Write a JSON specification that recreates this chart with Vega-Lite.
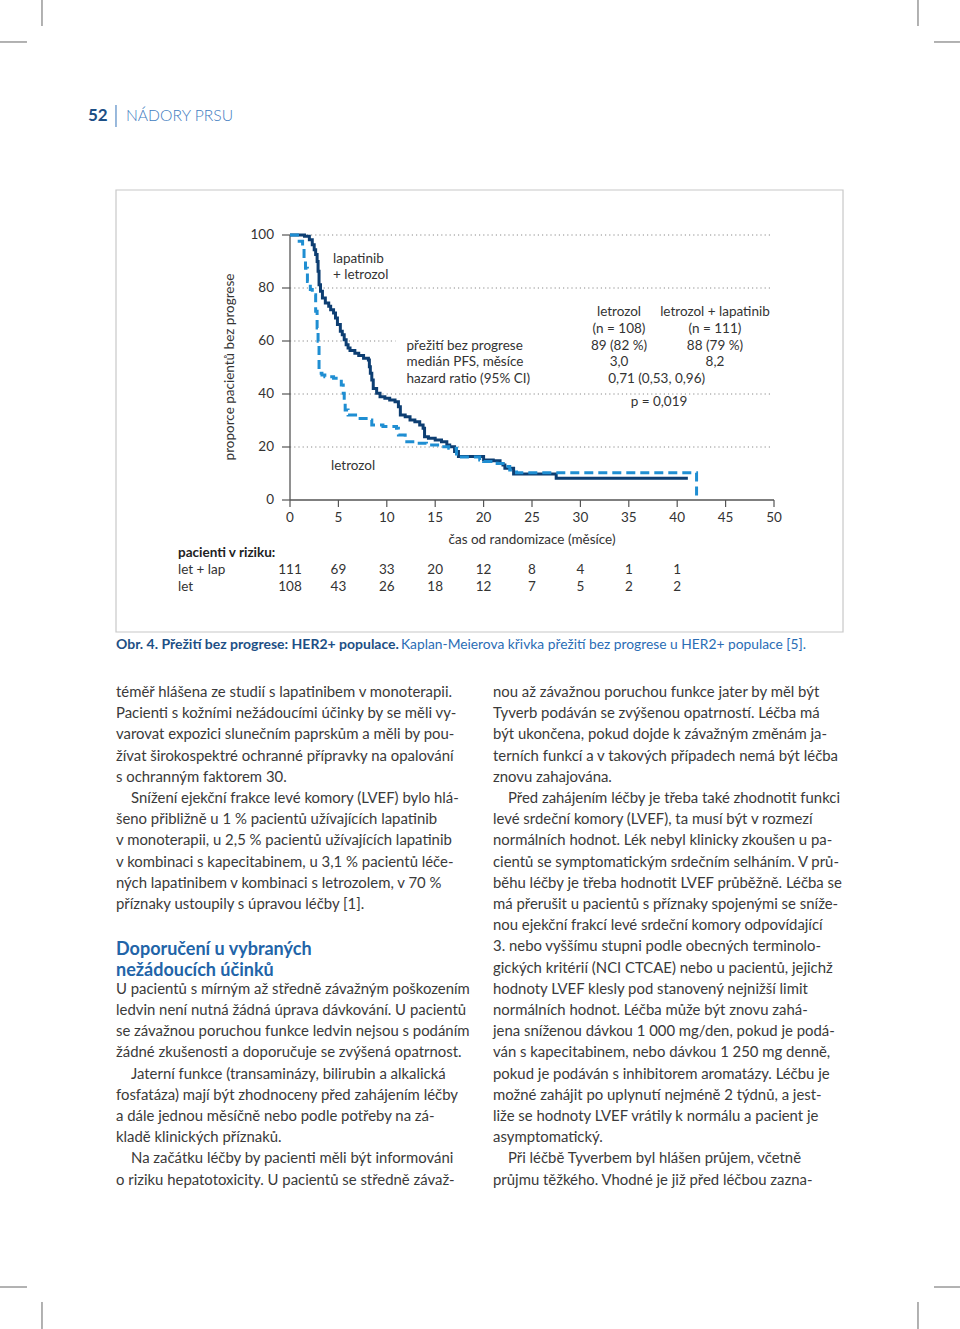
{
  "$schema": "https://vega.github.io/schema/vega-lite/v6.json",
  "width": 960,
  "height": 1329,
  "autosize": {"type": "none"},
  "padding": 0,
  "background": "white",
  "config": {"view": {"stroke": null}, "text": {"font": "Lato"}},
  "datasets": {
    "km": [
      {"arm": "let + lap", "t": 0, "s": 100}, {"arm": "let + lap", "t": 1.5, "s": 99.5}, {"arm": "let + lap", "t": 2.0, "s": 98.2}, {"arm": "let + lap", "t": 2.3, "s": 96.3}, {"arm": "let + lap", "t": 2.5, "s": 94.4}, {"arm": "let + lap", "t": 2.65, "s": 92.6}, {"arm": "let + lap", "t": 2.8, "s": 90}, {"arm": "let + lap", "t": 2.9, "s": 86.3}, {"arm": "let + lap", "t": 3.0, "s": 81.2}, {"arm": "let + lap", "t": 3.15, "s": 78.8}, {"arm": "let + lap", "t": 3.35, "s": 76.2}, {"arm": "let + lap", "t": 3.65, "s": 74.3}, {"arm": "let + lap", "t": 4.0, "s": 73.1}, {"arm": "let + lap", "t": 4.2, "s": 71.8}, {"arm": "let + lap", "t": 4.5, "s": 70.6}, {"arm": "let + lap", "t": 4.7, "s": 68.7}, {"arm": "let + lap", "t": 4.9, "s": 66.2}, {"arm": "let + lap", "t": 5.2, "s": 63.7}, {"arm": "let + lap", "t": 5.4, "s": 62.4}, {"arm": "let + lap", "t": 5.6, "s": 60.5}, {"arm": "let + lap", "t": 5.8, "s": 58.6}, {"arm": "let + lap", "t": 6.0, "s": 57.4}, {"arm": "let + lap", "t": 6.2, "s": 56.4}, {"arm": "let + lap", "t": 6.7, "s": 55.4}, {"arm": "let + lap", "t": 7.1, "s": 54.5}, {"arm": "let + lap", "t": 7.6, "s": 53.5}, {"arm": "let + lap", "t": 8.1, "s": 52.8}, {"arm": "let + lap", "t": 8.2, "s": 50.3}, {"arm": "let + lap", "t": 8.3, "s": 47.8}, {"arm": "let + lap", "t": 8.45, "s": 45.3}, {"arm": "let + lap", "t": 8.6, "s": 42.1}, {"arm": "let + lap", "t": 8.95, "s": 40.3}, {"arm": "let + lap", "t": 9.3, "s": 39.0}, {"arm": "let + lap", "t": 9.8, "s": 38.4}, {"arm": "let + lap", "t": 10.3, "s": 37.7}, {"arm": "let + lap", "t": 10.85, "s": 37.1}, {"arm": "let + lap", "t": 11.2, "s": 35.2}, {"arm": "let + lap", "t": 11.4, "s": 32.1}, {"arm": "let + lap", "t": 11.9, "s": 31.4}, {"arm": "let + lap", "t": 12.4, "s": 30.2}, {"arm": "let + lap", "t": 12.9, "s": 29.5}, {"arm": "let + lap", "t": 13.4, "s": 28.3}, {"arm": "let + lap", "t": 13.75, "s": 27.1}, {"arm": "let + lap", "t": 13.9, "s": 23.9}, {"arm": "let + lap", "t": 14.3, "s": 23.3}, {"arm": "let + lap", "t": 15.0, "s": 22.6}, {"arm": "let + lap", "t": 15.65, "s": 22.0}, {"arm": "let + lap", "t": 16.2, "s": 20.8}, {"arm": "let + lap", "t": 16.5, "s": 20.1}, {"arm": "let + lap", "t": 17.0, "s": 18.3}, {"arm": "let + lap", "t": 17.4, "s": 16.4}, {"arm": "let + lap", "t": 20.0, "s": 15.1}, {"arm": "let + lap", "t": 21.0, "s": 14.8}, {"arm": "let + lap", "t": 21.7, "s": 13.8}, {"arm": "let + lap", "t": 22.0, "s": 13.2}, {"arm": "let + lap", "t": 22.2, "s": 12.0}, {"arm": "let + lap", "t": 23.1, "s": 9.8}, {"arm": "let + lap", "t": 27.5, "s": 8.2}, {"arm": "let + lap", "t": 41.1, "s": 8.2},
      {"arm": "let", "t": 0, "s": 100}, {"arm": "let", "t": 0.95, "s": 97.6}, {"arm": "let", "t": 1.3, "s": 95.0}, {"arm": "let", "t": 1.45, "s": 91.3}, {"arm": "let", "t": 1.6, "s": 87.5}, {"arm": "let", "t": 1.8, "s": 82.5}, {"arm": "let", "t": 2.1, "s": 79.4}, {"arm": "let", "t": 2.3, "s": 77.5}, {"arm": "let", "t": 2.65, "s": 71.2}, {"arm": "let", "t": 2.8, "s": 64.9}, {"arm": "let", "t": 2.9, "s": 59.9}, {"arm": "let", "t": 3.0, "s": 47.8}, {"arm": "let", "t": 3.3, "s": 47.2}, {"arm": "let", "t": 3.6, "s": 46.5}, {"arm": "let", "t": 4.5, "s": 45.9}, {"arm": "let", "t": 5.3, "s": 43.4}, {"arm": "let", "t": 5.5, "s": 40.3}, {"arm": "let", "t": 5.6, "s": 37.0}, {"arm": "let", "t": 5.7, "s": 34.0}, {"arm": "let", "t": 6.0, "s": 32.1}, {"arm": "let", "t": 7.0, "s": 30.8}, {"arm": "let", "t": 8.1, "s": 30.2}, {"arm": "let", "t": 8.45, "s": 28.3}, {"arm": "let", "t": 9.6, "s": 27.7}, {"arm": "let", "t": 11.0, "s": 27.1}, {"arm": "let", "t": 11.2, "s": 24.5}, {"arm": "let", "t": 11.9, "s": 22.0}, {"arm": "let", "t": 13.1, "s": 21.4}, {"arm": "let", "t": 14.1, "s": 20.8}, {"arm": "let", "t": 15.5, "s": 20.1}, {"arm": "let", "t": 16.4, "s": 19.5}, {"arm": "let", "t": 17.2, "s": 16.2}, {"arm": "let", "t": 19.6, "s": 15.1}, {"arm": "let", "t": 20.0, "s": 14.5}, {"arm": "let", "t": 21.4, "s": 13.8}, {"arm": "let", "t": 22.0, "s": 12.6}, {"arm": "let", "t": 22.7, "s": 11.3}, {"arm": "let", "t": 23.4, "s": 10.3}, {"arm": "let", "t": 42.0, "s": 1.0}
    ],
    "risk": [
      {"arm": "let + lap", "t": 0, "n": 111}, {"arm": "let + lap", "t": 5, "n": 69}, {"arm": "let + lap", "t": 10, "n": 33}, {"arm": "let + lap", "t": 15, "n": 20}, {"arm": "let + lap", "t": 20, "n": 12}, {"arm": "let + lap", "t": 25, "n": 8}, {"arm": "let + lap", "t": 30, "n": 4}, {"arm": "let + lap", "t": 35, "n": 1}, {"arm": "let + lap", "t": 40, "n": 1},
      {"arm": "let", "t": 0, "n": 108}, {"arm": "let", "t": 5, "n": 43}, {"arm": "let", "t": 10, "n": 26}, {"arm": "let", "t": 15, "n": 18}, {"arm": "let", "t": 20, "n": 12}, {"arm": "let", "t": 25, "n": 7}, {"arm": "let", "t": 30, "n": 5}, {"arm": "let", "t": 35, "n": 2}, {"arm": "let", "t": 40, "n": 2}
    ],
    "grid": [{"v": 20}, {"v": 40}, {"v": 60}, {"v": 80}, {"v": 100}],
    "xticks": [{"v": 0}, {"v": 5}, {"v": 10}, {"v": 15}, {"v": 20}, {"v": 25}, {"v": 30}, {"v": 35}, {"v": 40}, {"v": 45}, {"v": 50}],
    "yticks": [{"v": 0}, {"v": 20}, {"v": 40}, {"v": 60}, {"v": 80}, {"v": 100}],
    "body": [
      {"col": 0, "line": 0, "role": "body", "text": "téměř hlášena ze studií s lapatinibem v monoterapii."},
      {"col": 0, "line": 1, "role": "body", "text": "Pacienti s kožními nežádoucími účinky by se měli vy-"},
      {"col": 0, "line": 2, "role": "body", "text": "varovat expozici slunečním paprskům a měli by pou-"},
      {"col": 0, "line": 3, "role": "body", "text": "žívat širokospektré ochranné přípravky na opalování"},
      {"col": 0, "line": 4, "role": "body", "text": "s ochranným faktorem 30."},
      {"col": 0, "line": 5, "role": "para", "text": "Snížení ejekční frakce levé komory (LVEF) bylo hlá-"},
      {"col": 0, "line": 6, "role": "body", "text": "šeno přibližně u 1 % pacientů užívajících lapatinib"},
      {"col": 0, "line": 7, "role": "body", "text": "v monoterapii, u 2,5 % pacientů užívajících lapatinib"},
      {"col": 0, "line": 8, "role": "body", "text": "v kombinaci s kapecitabinem, u 3,1 % pacientů léče-"},
      {"col": 0, "line": 9, "role": "body", "text": "ných lapatinibem v kombinaci s letrozolem, v 70 %"},
      {"col": 0, "line": 10, "role": "body", "text": "příznaky ustoupily s úpravou léčby [1]."},
      {"col": 0, "line": 12.1, "role": "heading", "text": "Doporučení u vybraných"},
      {"col": 0, "line": 13.1, "role": "heading", "text": "nežádoucích účinků"},
      {"col": 0, "line": 14, "role": "body", "text": "U pacientů s mírným až středně závažným poškozením"},
      {"col": 0, "line": 15, "role": "body", "text": "ledvin není nutná žádná úprava dávkování. U pacientů"},
      {"col": 0, "line": 16, "role": "body", "text": "se závažnou poruchou funkce ledvin nejsou s podáním"},
      {"col": 0, "line": 17, "role": "body", "text": "žádné zkušenosti a doporučuje se zvýšená opatrnost."},
      {"col": 0, "line": 18, "role": "para", "text": "Jaterní funkce (transaminázy, bilirubin a alkalická"},
      {"col": 0, "line": 19, "role": "body", "text": "fosfatáza) mají být zhodnoceny před zahájením léčby"},
      {"col": 0, "line": 20, "role": "body", "text": "a dále jednou měsíčně nebo podle potřeby na zá-"},
      {"col": 0, "line": 21, "role": "body", "text": "kladě klinických příznaků."},
      {"col": 0, "line": 22, "role": "para", "text": "Na začátku léčby by pacienti měli být informováni"},
      {"col": 0, "line": 23, "role": "body", "text": "o riziku hepatotoxicity. U pacientů se středně závaž-"},
      {"col": 1, "line": 0, "role": "body", "text": "nou až závažnou poruchou funkce jater by měl být"},
      {"col": 1, "line": 1, "role": "body", "text": "Tyverb podáván se zvýšenou opatrností. Léčba má"},
      {"col": 1, "line": 2, "role": "body", "text": "být ukončena, pokud dojde k závažným změnám ja-"},
      {"col": 1, "line": 3, "role": "body", "text": "terních funkcí a v takových případech nemá být léčba"},
      {"col": 1, "line": 4, "role": "body", "text": "znovu zahajována."},
      {"col": 1, "line": 5, "role": "para", "text": "Před zahájením léčby je třeba také zhodnotit funkci"},
      {"col": 1, "line": 6, "role": "body", "text": "levé srdeční komory (LVEF), ta musí být v rozmezí"},
      {"col": 1, "line": 7, "role": "body", "text": "normálních hodnot. Lék nebyl klinicky zkoušen u pa-"},
      {"col": 1, "line": 8, "role": "body", "text": "cientů se symptomatickým srdečním selháním. V prů-"},
      {"col": 1, "line": 9, "role": "body", "text": "běhu léčby je třeba hodnotit LVEF průběžně. Léčba se"},
      {"col": 1, "line": 10, "role": "body", "text": "má přerušit u pacientů s příznaky spojenými se sníže-"},
      {"col": 1, "line": 11, "role": "body", "text": "nou ejekční frakcí levé srdeční komory odpovídající"},
      {"col": 1, "line": 12, "role": "body", "text": "3. nebo vyššímu stupni podle obecných terminolo-"},
      {"col": 1, "line": 13, "role": "body", "text": "gických kritérií (NCI CTCAE) nebo u pacientů, jejichž"},
      {"col": 1, "line": 14, "role": "body", "text": "hodnoty LVEF klesly pod stanovený nejnižší limit"},
      {"col": 1, "line": 15, "role": "body", "text": "normálních hodnot. Léčba může být znovu zahá-"},
      {"col": 1, "line": 16, "role": "body", "text": "jena sníženou dávkou 1 000 mg/den, pokud je podá-"},
      {"col": 1, "line": 17, "role": "body", "text": "ván s kapecitabinem, nebo dávkou 1 250 mg denně,"},
      {"col": 1, "line": 18, "role": "body", "text": "pokud je podáván s inhibitorem aromatázy. Léčbu je"},
      {"col": 1, "line": 19, "role": "body", "text": "možné zahájit po uplynutí nejméně 2 týdnů, a jest-"},
      {"col": 1, "line": 20, "role": "body", "text": "liže se hodnoty LVEF vrátily k normálu a pacient je"},
      {"col": 1, "line": 21, "role": "body", "text": "asymptomatický."},
      {"col": 1, "line": 22, "role": "para", "text": "Při léčbě Tyverbem byl hlášen průjem, včetně"},
      {"col": 1, "line": 23, "role": "body", "text": "průjmu těžkého. Vhodné je již před léčbou zazna-"}
    ]
  },
  "layer": [
    {
      "layer": [
        {
          "data": {"name": "grid"},
          "mark": {"type": "rule", "stroke": "#8a8a8a", "strokeWidth": 1, "strokeDash": [1.2, 3]},
          "encoding": {
            "y": {"field": "v", "type": "quantitative", "scale": {"domain": [-312.83, 188.68], "nice": false, "zero": false}, "axis": null},
            "x": {"datum": 0, "type": "quantitative", "scale": {"domain": [-29.959, 69.215], "nice": false, "zero": false}, "axis": null},
            "x2": {"datum": 49.8}
          }
        },
        {
          "data": {"values": [{}]},
          "mark": {"type": "rect", "fill": "white"},
          "encoding": {"x": {"datum": 10.9, "type": "quantitative", "axis": null}, "x2": {"datum": 50.5}, "y": {"datum": 43, "type": "quantitative", "axis": null}, "y2": {"datum": 77}}
        },
        {
          "data": {"values": [{}]},
          "mark": {"type": "rule", "stroke": "#555555", "strokeWidth": 1.3},
          "encoding": {"x": {"datum": 0, "type": "quantitative", "axis": null}, "y": {"datum": 0, "type": "quantitative", "axis": null}, "y2": {"datum": 100}}
        },
        {
          "data": {"values": [{}]},
          "mark": {"type": "rule", "stroke": "#555555", "strokeWidth": 1.3},
          "encoding": {"x": {"datum": 0, "type": "quantitative", "axis": null}, "x2": {"datum": 50}, "y": {"datum": 0, "type": "quantitative", "axis": null}}
        },
        {
          "data": {"name": "xticks"},
          "mark": {"type": "rule", "stroke": "#555555", "strokeWidth": 1.2},
          "encoding": {"x": {"field": "v", "type": "quantitative", "axis": null}, "y": {"datum": 0, "type": "quantitative", "axis": null}, "y2": {"datum": -2.64}}
        },
        {
          "data": {"name": "xticks"},
          "mark": {"type": "text", "align": "center", "baseline": "middle", "fontSize": 13.5, "fill": "#333333"},
          "encoding": {"x": {"field": "v", "type": "quantitative", "axis": null}, "y": {"datum": -6.79, "type": "quantitative", "axis": null}, "text": {"field": "v"}}
        },
        {
          "data": {"name": "yticks"},
          "mark": {"type": "rule", "stroke": "#555555", "strokeWidth": 1.2},
          "encoding": {"y": {"field": "v", "type": "quantitative", "axis": null}, "x": {"datum": 0, "type": "quantitative", "axis": null}, "x2": {"datum": -0.83}}
        },
        {
          "data": {"name": "yticks"},
          "mark": {"type": "text", "align": "right", "baseline": "middle", "fontSize": 13.5, "fill": "#333333"},
          "encoding": {"y": {"field": "v", "type": "quantitative", "axis": null}, "x": {"datum": -1.65, "type": "quantitative", "axis": null}, "text": {"field": "v"}}
        },
        {"data": {"values": [{}]}, "mark": {"type": "text", "text": "čas od randomizace (měsíce)", "align": "center", "baseline": "middle", "fontSize": 13.5, "fill": "#333333"},
          "encoding": {"x": {"datum": 25, "type": "quantitative", "axis": null}, "y": {"datum": -15.09, "type": "quantitative", "axis": null}}},
        {"data": {"values": [{}]}, "mark": {"type": "text", "text": "proporce pacientů bez progrese", "align": "center", "baseline": "middle", "angle": 270, "fontSize": 13.5, "fill": "#333333"},
          "encoding": {"x": {"datum": -6.2, "type": "quantitative", "axis": null}, "y": {"datum": 50.19, "type": "quantitative", "axis": null}}},
        {
          "data": {"name": "km"},
          "transform": [{"filter": "datum.arm === 'let + lap'"}],
          "mark": {"type": "line", "interpolate": "step-after", "stroke": "#0d3e72", "strokeWidth": 3},
          "encoding": {"x": {"field": "t", "type": "quantitative", "axis": null}, "y": {"field": "s", "type": "quantitative", "axis": null}}
        },
        {
          "data": {"name": "km"},
          "transform": [{"filter": "datum.arm === 'let'"}],
          "mark": {"type": "line", "interpolate": "step-after", "stroke": "#1f8ed2", "strokeWidth": 3, "strokeDash": [9, 5]},
          "encoding": {"x": {"field": "t", "type": "quantitative", "axis": null}, "y": {"field": "s", "type": "quantitative", "axis": null}}
        },
        {"data": {"values": [{}]}, "mark": {"type": "text", "text": "lapatinib", "align": "left", "baseline": "middle", "fontSize": 13.5, "fill": "#333333"},
          "encoding": {"x": {"datum": 4.44, "type": "quantitative", "axis": null}, "y": {"datum": 91.0, "type": "quantitative", "axis": null}}},
        {"data": {"values": [{}]}, "mark": {"type": "text", "text": "+ letrozol", "align": "left", "baseline": "middle", "fontSize": 13.5, "fill": "#333333"},
          "encoding": {"x": {"datum": 4.44, "type": "quantitative", "axis": null}, "y": {"datum": 84.9, "type": "quantitative", "axis": null}}},
        {"data": {"values": [{}]}, "mark": {"type": "text", "text": "letrozol", "align": "left", "baseline": "middle", "fontSize": 13.5, "fill": "#333333"},
          "encoding": {"x": {"datum": 4.24, "type": "quantitative", "axis": null}, "y": {"datum": 12.8, "type": "quantitative", "axis": null}}},
        {"data": {"values": [{}]}, "mark": {"type": "text", "text": "přežití bez progrese", "align": "left", "baseline": "middle", "fontSize": 13.5, "fill": "#333333"},
          "encoding": {"x": {"datum": 12.04, "type": "quantitative", "axis": null}, "y": {"datum": 58.23, "type": "quantitative", "axis": null}}},
        {"data": {"values": [{}]}, "mark": {"type": "text", "text": "medián PFS, měsíce", "align": "left", "baseline": "middle", "fontSize": 13.5, "fill": "#333333"},
          "encoding": {"x": {"datum": 12.04, "type": "quantitative", "axis": null}, "y": {"datum": 52.19, "type": "quantitative", "axis": null}}},
        {"data": {"values": [{}]}, "mark": {"type": "text", "text": "hazard ratio (95% CI)", "align": "left", "baseline": "middle", "fontSize": 13.5, "fill": "#333333"},
          "encoding": {"x": {"datum": 12.04, "type": "quantitative", "axis": null}, "y": {"datum": 45.66, "type": "quantitative", "axis": null}}},
        {"data": {"values": [{}]}, "mark": {"type": "text", "text": "letrozol", "align": "center", "baseline": "middle", "fontSize": 13.5, "fill": "#333333"},
          "encoding": {"x": {"datum": 33.99, "type": "quantitative", "axis": null}, "y": {"datum": 70.94, "type": "quantitative", "axis": null}}},
        {"data": {"values": [{}]}, "mark": {"type": "text", "text": "(n = 108)", "align": "center", "baseline": "middle", "fontSize": 13.5, "fill": "#333333"},
          "encoding": {"x": {"datum": 33.99, "type": "quantitative", "axis": null}, "y": {"datum": 64.53, "type": "quantitative", "axis": null}}},
        {"data": {"values": [{}]}, "mark": {"type": "text", "text": "89 (82 %)", "align": "center", "baseline": "middle", "fontSize": 13.5, "fill": "#333333"},
          "encoding": {"x": {"datum": 33.99, "type": "quantitative", "axis": null}, "y": {"datum": 58.23, "type": "quantitative", "axis": null}}},
        {"data": {"values": [{}]}, "mark": {"type": "text", "text": "3,0", "align": "center", "baseline": "middle", "fontSize": 13.5, "fill": "#333333"},
          "encoding": {"x": {"datum": 33.99, "type": "quantitative", "axis": null}, "y": {"datum": 52.19, "type": "quantitative", "axis": null}}},
        {"data": {"values": [{}]}, "mark": {"type": "text", "text": "letrozol + lapatinib", "align": "center", "baseline": "middle", "fontSize": 13.5, "fill": "#333333"},
          "encoding": {"x": {"datum": 43.9, "type": "quantitative", "axis": null}, "y": {"datum": 70.94, "type": "quantitative", "axis": null}}},
        {"data": {"values": [{}]}, "mark": {"type": "text", "text": "(n = 111)", "align": "center", "baseline": "middle", "fontSize": 13.5, "fill": "#333333"},
          "encoding": {"x": {"datum": 43.9, "type": "quantitative", "axis": null}, "y": {"datum": 64.53, "type": "quantitative", "axis": null}}},
        {"data": {"values": [{}]}, "mark": {"type": "text", "text": "88 (79 %)", "align": "center", "baseline": "middle", "fontSize": 13.5, "fill": "#333333"},
          "encoding": {"x": {"datum": 43.9, "type": "quantitative", "axis": null}, "y": {"datum": 58.23, "type": "quantitative", "axis": null}}},
        {"data": {"values": [{}]}, "mark": {"type": "text", "text": "8,2", "align": "center", "baseline": "middle", "fontSize": 13.5, "fill": "#333333"},
          "encoding": {"x": {"datum": 43.9, "type": "quantitative", "axis": null}, "y": {"datum": 52.19, "type": "quantitative", "axis": null}}},
        {"data": {"values": [{}]}, "mark": {"type": "text", "text": "0,71 (0,53, 0,96)", "align": "center", "baseline": "middle", "fontSize": 13.5, "fill": "#333333"},
          "encoding": {"x": {"datum": 37.88, "type": "quantitative", "axis": null}, "y": {"datum": 45.66, "type": "quantitative", "axis": null}}},
        {"data": {"values": [{}]}, "mark": {"type": "text", "text": "p = 0,019", "align": "center", "baseline": "middle", "fontSize": 13.5, "fill": "#333333"},
          "encoding": {"x": {"datum": 38.12, "type": "quantitative", "axis": null}, "y": {"datum": 37.09, "type": "quantitative", "axis": null}}},
        {"data": {"values": [{}]}, "mark": {"type": "text", "text": "pacienti v riziku:", "align": "left", "baseline": "middle", "fontSize": 13.5, "fontWeight": "bold", "fill": "#222222"},
          "encoding": {"x": {"datum": -11.57, "type": "quantitative", "axis": null}, "y": {"datum": -20.0, "type": "quantitative", "axis": null}}},
        {"data": {"values": [{}]}, "mark": {"type": "text", "text": "let + lap", "align": "left", "baseline": "middle", "fontSize": 13.5, "fill": "#333333"},
          "encoding": {"x": {"datum": -11.57, "type": "quantitative", "axis": null}, "y": {"datum": -26.42, "type": "quantitative", "axis": null}}},
        {"data": {"values": [{}]}, "mark": {"type": "text", "text": "let", "align": "left", "baseline": "middle", "fontSize": 13.5, "fill": "#333333"},
          "encoding": {"x": {"datum": -11.57, "type": "quantitative", "axis": null}, "y": {"datum": -32.83, "type": "quantitative", "axis": null}}},
        {"data": {"name": "risk"}, "transform": [{"filter": "datum.arm === 'let + lap'"}],
          "mark": {"type": "text", "align": "center", "baseline": "middle", "fontSize": 13.5, "fill": "#333333"},
          "encoding": {"x": {"field": "t", "type": "quantitative", "axis": null}, "y": {"datum": -26.42, "type": "quantitative", "axis": null}, "text": {"field": "n"}}},
        {"data": {"name": "risk"}, "transform": [{"filter": "datum.arm === 'let'"}],
          "mark": {"type": "text", "align": "center", "baseline": "middle", "fontSize": 13.5, "fill": "#333333"},
          "encoding": {"x": {"field": "t", "type": "quantitative", "axis": null}, "y": {"datum": -32.83, "type": "quantitative", "axis": null}, "text": {"field": "n"}}}
      ]
    },
    {
      "layer": [
        {
          "data": {"name": "body"},
          "transform": [{"filter": "datum.role === 'body'"}],
          "mark": {"type": "text", "align": "left", "baseline": "middle", "fontSize": 14.9, "fill": "#3a3a3a"},
          "encoding": {
            "x": {"field": "col", "type": "quantitative", "scale": {"domain": [-0.30769, 2.23873], "nice": false, "zero": false}, "axis": null},
            "y": {"field": "line", "type": "quantitative", "scale": {"domain": [-32.689, 30.0], "reverse": true, "nice": false, "zero": false}, "axis": null},
            "text": {"field": "text"}
          }
        },
        {
          "data": {"name": "body"},
          "transform": [{"filter": "datum.role === 'para'"}],
          "mark": {"type": "text", "align": "left", "baseline": "middle", "fontSize": 14.9, "fill": "#3a3a3a", "dx": 15},
          "encoding": {"x": {"field": "col", "type": "quantitative", "axis": null}, "y": {"field": "line", "type": "quantitative", "axis": null}, "text": {"field": "text"}}
        },
        {
          "data": {"name": "body"},
          "transform": [{"filter": "datum.role === 'heading'"}],
          "mark": {"type": "text", "align": "left", "baseline": "middle", "fontSize": 18, "fontWeight": "bold", "fill": "#2264a8"},
          "encoding": {"x": {"field": "col", "type": "quantitative", "axis": null}, "y": {"field": "line", "type": "quantitative", "axis": null}, "text": {"field": "text"}}
        },
        {"data": {"values": [{}]}, "mark": {"type": "rect", "fill": null, "stroke": "#c8c8c8", "strokeWidth": 1.2},
          "encoding": {"x": {"datum": 0, "type": "quantitative", "axis": null}, "x2": {"datum": 1.9284}, "y": {"datum": -23.726, "type": "quantitative", "axis": null}, "y2": {"datum": -2.877}}},
        {"data": {"values": [{}]}, "mark": {"type": "text", "text": "Obr. 4. Přežití bez progrese: HER2+ populace.", "align": "left", "baseline": "middle", "fontSize": 14, "fontWeight": "bold", "fill": "#1d4f85"},
          "encoding": {"x": {"datum": 0, "type": "quantitative", "axis": null}, "y": {"datum": -2.264, "type": "quantitative", "axis": null}}},
        {"data": {"values": [{}]}, "mark": {"type": "text", "text": "Kaplan-Meierova křivka přežití bez progrese u HER2+ populace [5].", "align": "left", "baseline": "middle", "fontSize": 13.8, "fill": "#2a6db5"},
          "encoding": {"x": {"datum": 0.756, "type": "quantitative", "axis": null}, "y": {"datum": -2.264, "type": "quantitative", "axis": null}}},
        {"data": {"values": [{}]}, "mark": {"type": "text", "text": "52", "align": "left", "baseline": "middle", "fontSize": 17, "fontWeight": "bold", "fill": "#1d4f85"},
          "encoding": {"x": {"datum": -0.0743, "type": "quantitative", "axis": null}, "y": {"datum": -27.217, "type": "quantitative", "axis": null}}},
        {"data": {"values": [{}]}, "mark": {"type": "text", "text": "NÁDORY PRSU", "align": "left", "baseline": "middle", "fontSize": 15.7, "fontWeight": 300, "fill": "#3f7cc0"},
          "encoding": {"x": {"datum": 0.0265, "type": "quantitative", "axis": null}, "y": {"datum": -27.217, "type": "quantitative", "axis": null}}},
        {"data": {"values": [{}]}, "mark": {"type": "rule", "stroke": "#3573b9", "strokeWidth": 1},
          "encoding": {"x": {"datum": 0, "type": "quantitative", "axis": null}, "y": {"datum": -27.736, "type": "quantitative", "axis": null}, "y2": {"datum": -26.698}}},
        {"data": {"values": [{}]}, "mark": {"type": "rule", "stroke": "#666666", "strokeWidth": 1},
          "encoding": {"x": {"datum": -0.1963, "type": "quantitative", "axis": null}, "y": {"datum": -32.689, "type": "quantitative", "axis": null}, "y2": {"datum": -31.462}}},
        {"data": {"values": [{}]}, "mark": {"type": "rule", "stroke": "#666666", "strokeWidth": 1},
          "encoding": {"x": {"datum": -0.3077, "type": "quantitative", "axis": null}, "x2": {"datum": -0.2361}, "y": {"datum": -30.708, "type": "quantitative", "axis": null}}},
        {"data": {"values": [{}]}, "mark": {"type": "rule", "stroke": "#666666", "strokeWidth": 1},
          "encoding": {"x": {"datum": 2.1273, "type": "quantitative", "axis": null}, "y": {"datum": -32.689, "type": "quantitative", "axis": null}, "y2": {"datum": -31.462}}},
        {"data": {"values": [{}]}, "mark": {"type": "rule", "stroke": "#666666", "strokeWidth": 1},
          "encoding": {"x": {"datum": 2.1698, "type": "quantitative", "axis": null}, "x2": {"datum": 2.2387}, "y": {"datum": -30.708, "type": "quantitative", "axis": null}}},
        {"data": {"values": [{}]}, "mark": {"type": "rule", "stroke": "#666666", "strokeWidth": 1},
          "encoding": {"x": {"datum": -0.1963, "type": "quantitative", "axis": null}, "y": {"datum": 28.726, "type": "quantitative", "axis": null}, "y2": {"datum": 30.0}}},
        {"data": {"values": [{}]}, "mark": {"type": "rule", "stroke": "#666666", "strokeWidth": 1},
          "encoding": {"x": {"datum": -0.3077, "type": "quantitative", "axis": null}, "x2": {"datum": -0.2361}, "y": {"datum": 28.019, "type": "quantitative", "axis": null}}},
        {"data": {"values": [{}]}, "mark": {"type": "rule", "stroke": "#666666", "strokeWidth": 1},
          "encoding": {"x": {"datum": 2.1273, "type": "quantitative", "axis": null}, "y": {"datum": 28.726, "type": "quantitative", "axis": null}, "y2": {"datum": 30.0}}},
        {"data": {"values": [{}]}, "mark": {"type": "rule", "stroke": "#666666", "strokeWidth": 1},
          "encoding": {"x": {"datum": 2.1698, "type": "quantitative", "axis": null}, "x2": {"datum": 2.2387}, "y": {"datum": 28.019, "type": "quantitative", "axis": null}}}
      ]
    }
  ],
  "resolve": {"scale": {"x": "independent", "y": "independent"}}
}
